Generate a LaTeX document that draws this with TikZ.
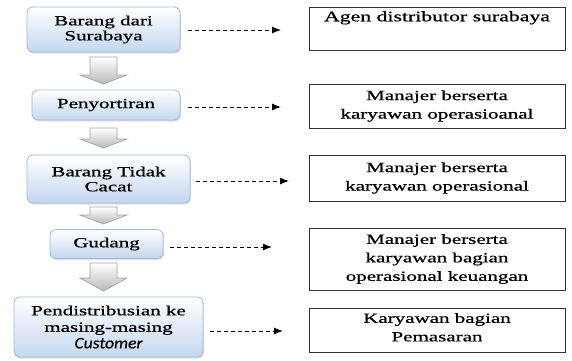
\documentclass[tikz,border=0pt]{standalone}
\usepackage{fontspec}
\setmainfont{Liberation Serif}[FakeStretch=1.5,FakeBold=0.8]
\newfontfamily\custfont{Carlito}[FakeStretch=1.1,FakeBold=0.6]
\usetikzlibrary{arrows.meta,shadows}
\definecolor{boxblue}{HTML}{C4D7EF}
\definecolor{boxline}{HTML}{9CBBE0}
\definecolor{arrgrey}{HTML}{A3A3A3}
\tikzset{
  leftbox/.style={draw=boxline, line width=0.8pt, rounded corners=6pt,
    top color=white, bottom color=boxblue, align=center, inner sep=0pt,
    font=\fontsize{14}{15}\selectfont, text=black,
    drop shadow={shadow xshift=1pt, shadow yshift=-1.5pt, opacity=0.25, fill=gray}},
  rightbox/.style={draw=black!80, line width=1pt, fill=white, align=center,
    inner sep=0pt, font=\fontsize{14}{18.5}\selectfont, text=black},
  blockarr/.style={draw=arrgrey, line width=0.7pt, top color=white, bottom color=gray!55},
  dasharr/.style={draw=black, line width=1pt, dash pattern=on 4pt off 3pt,
    -{Latex[length=9pt,width=7pt]}}
}
\begin{document}
\begin{tikzpicture}[x=1pt,y=-1pt]
\useasboundingbox (0,0) rectangle (572,360);
% left boxes
\node[leftbox, minimum width=153pt, minimum height=45pt] (b1) at (103.5,29.5) {Barang dari\\Surabaya};
\node[leftbox, minimum width=148pt, minimum height=30pt] (b2) at (106,105) {Penyortiran};
\node[leftbox, minimum width=163pt, minimum height=48pt] (b3) at (108.5,179) {Barang Tidak\\Cacat};
\node[leftbox, minimum width=113pt, minimum height=29pt] (b4) at (106.5,244) {Gudang};
\node[leftbox, minimum width=189pt, minimum height=60pt, font=\fontsize{14}{16.5}\selectfont] (b5) at (108.5,327) {Pendistribusian ke\\masing-masing\\{\custfont\fontsize{16}{16.5}\selectfont\itshape Customer}};
% right boxes
\node[rightbox, minimum width=256pt, minimum height=43pt] (r1) at (437,28.5) {};
\node[anchor=north, inner sep=0pt, font=\fontsize{14.5}{18}\selectfont] (r1t) at (437,11) {Agen distributor surabaya};
\node[rightbox, minimum width=256pt, minimum height=44pt] (r2) at (437,106) {Manajer berserta\\karyawan operasioanal};
\node[rightbox, minimum width=256pt, minimum height=46pt] (r3) at (437,178) {Manajer berserta\\karyawan operasional};
\node[rightbox, minimum width=256pt, minimum height=62pt] (r4) at (437,259) {Manajer berserta\\karyawan bagian\\operasional keuangan};
\node[rightbox, minimum width=256pt, minimum height=44pt] (r5) at (437,330) {Karyawan bagian\\Pemasaran\strut};
% block arrows
\path[blockarr] (90,57) -- (117,57) -- (117,75) -- (127,75) -- (103.5,84) -- (80,75) -- (90,75) -- cycle;
\path[blockarr] (90,128) -- (117,128) -- (117,139) -- (127,139) -- (103.5,148) -- (80,139) -- (90,139) -- cycle;
\path[blockarr] (90,207) -- (117,207) -- (117,215) -- (127,215) -- (103.5,224) -- (80,215) -- (90,215) -- cycle;
\path[blockarr] (90,263) -- (117,263) -- (117,278) -- (127,278) -- (103.5,291) -- (80,278) -- (90,278) -- cycle;
% dashed arrows
\coordinate (e1) at (281,30);
\coordinate (e2) at (281,107);
\coordinate (e3) at (289,181);
\coordinate (e4) at (272,247);
\coordinate (e5) at (283,331);
\draw[dasharr] ([shift={(8,0.5)}]b1.east) -- (e1);
\draw[dasharr] ([shift={(8,2)}]b2.east) -- (e2);
\draw[dasharr] ([shift={(6,2)}]b3.east) -- (e3);
\draw[dasharr] ([shift={(7,3)}]b4.east) -- (e4);
\draw[dasharr] ([shift={(7,4)}]b5.east) -- (e5);
\end{tikzpicture}
\end{document}
